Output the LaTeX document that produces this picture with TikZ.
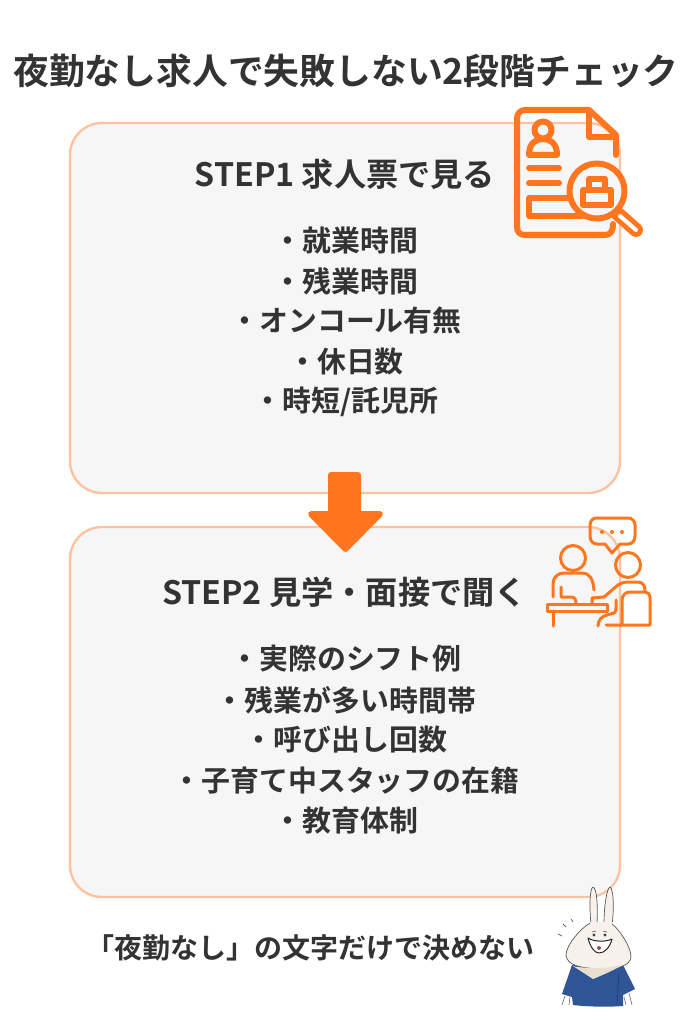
\documentclass[tikz,border=0pt]{standalone}
\usepackage{fontspec}
\setmainfont{Noto Sans CJK JP}[BoldFont={* Bold},UprightFeatures={}]
\definecolor{ink}{HTML}{333333}
\definecolor{org}{HTML}{FF761F}
\definecolor{edge}{HTML}{FDC3A0}
\definecolor{panel}{HTML}{F6F6F6}
\definecolor{shirt}{HTML}{2F5597}
\definecolor{fur}{HTML}{F6F1EB}
\definecolor{collar}{HTML}{E9DFD0}
\tikzset{
 panelbox/.style={draw=edge,line width=2.4pt,fill=panel,rounded corners=32pt},
 titletext/.style={text=ink,font=\fontsize{35.8}{40}\selectfont\bfseries,inner sep=0pt,anchor=center},
 headtext/.style={text=ink,font=\fontsize{32.2}{36}\selectfont\bfseries,inner sep=0pt,anchor=center},
 itemtext/.style={text=ink,font=\fontsize{28.9}{33}\selectfont\bfseries,inner sep=0pt,anchor=center},
 notetext/.style={text=ink,font=\fontsize{28}{32}\selectfont\bfseries,inner sep=0pt,anchor=center},
 iconA/.style={draw=org,line width=6pt,line cap=round,line join=round},
 iconB/.style={draw=org,line width=3pt,line cap=round,line join=round},
 rab/.style={draw=black!65,line width=.7pt,line join=round},
}
\begin{document}
\begin{tikzpicture}[x=1pt,y=-1pt]
\useasboundingbox (0,0) rectangle (691,1024);
\fill[white] (0,0) rectangle (691,1024);
% panels
\draw[panelbox] (70,123) rectangle (620,493);
\draw[panelbox] (70,527) rectangle (620,897);
% arrow
\fill[org,draw=org,line width=6pt,line join=round] (331,475) -- (358,475) -- (358,514) -- (380,514) -- (345.5,549) -- (311,514) -- (331,514) -- cycle;
% texts
\node[titletext] (title) at (346,71) {夜勤なし求人で失敗しない2段階チェック};
\node[headtext] (h1) at (345,174) {STEP1 求人票で見る};
\node[itemtext] (a1) at (346,241) {・就業時間};
\node[itemtext] (a2) at (346,281) {・残業時間};
\node[itemtext] (a3) at (346,321) {・オンコール有無};
\node[itemtext] (a4) at (346,362) {・休日数};
\node[itemtext] (a5) at (346,402) {・時短/託児所};
\node[headtext] (h2) at (344.5,592) {STEP2 見学・面接で聞く};
\node[itemtext] (b1) at (346,659) {・実際のシフト例};
\node[itemtext] (b2) at (346,700) {・残業が多い時間帯};
\node[itemtext] (b3) at (346,740) {・呼び出し回数};
\node[itemtext] (b4) at (346,781) {・子育て中スタッフの在籍};
\node[itemtext] (b5) at (346,821) {・教育体制};
\node[notetext] (note) at (310,948) {「夜勤なし」の文字だけで決めない};
% document icon
\draw[iconA] (616,155) -- (616,135) -- (589,110) -- (525,110) arc[start angle=270,end angle=180,radius=8] -- (517,227) .. controls (517,232) and (520,235) .. (525,235) -- (605,235) .. controls (610,235) and (613,232) .. (613,224);
\draw[iconA] (589,110) -- (589,137) -- (616,137);
\draw[iconA] (543,130) circle[radius=8.5];
\draw[iconA] (529,155) .. controls (529,143) and (536,139) .. (543,139) .. controls (550,139) and (557,143) .. (557,155) -- cycle;
\draw[iconA] (529,168) -- (559,168);
\draw[iconA] (529,183) -- (559,183);
\draw[iconA] (574,198) -- (529,198) -- (529,216) -- (582,216);
% magnifier
\draw[org,line width=14pt,line cap=round] (618,214) -- (636,230);
\draw[white,line width=4pt,line cap=round] (620,216) -- (636,230);
\draw[iconA,fill=panel] (597,191) circle[radius=27.5];
\draw[iconA] (589,190) -- (589,179) -- (605,179) -- (605,190);
\draw[iconA] (583,190) rectangle (611,205);
% conversation icon
\draw[iconB] (596,518) -- (628,518) .. controls (632,518) and (635,521) .. (635,525) -- (635,536) .. controls (635,541) and (632,544) .. (628,544) -- (620,544) -- (612,553) -- (605,544) -- (597,544) .. controls (593,544) and (590,541) .. (590,536) -- (590,525) .. controls (590,521) and (593,518) .. (596,518) -- cycle;
\foreach \px in {602,612,622}{\fill[org] (\px,532) circle[radius=2];}
\draw[iconB] (573,558) circle[radius=12.5];
\draw[iconB] (628,565) circle[radius=12.5];
\draw[iconB] (553,597) -- (553,584) .. controls (553,577) and (558,573) .. (564,573) -- (582,573) .. controls (589,573) and (593,578) .. (594,590);
\draw[iconB] (561,587) -- (561,597) -- (571,597) .. controls (575,597) and (576,600) .. (576,604);
\draw[iconB] (547,604) -- (607,604) -- (607,611) -- (547,611) -- cycle;
\draw[iconB] (553,611) -- (553,626);
\draw[iconB] (592,603) -- (592,598) -- (604,597) -- (618,585) .. controls (621,583) and (624,582) .. (628,582) -- (638,582) .. controls (643,582) and (645,586) .. (645,591);
\draw[iconB] (606,625) -- (650,625) -- (650,597) .. controls (650,594) and (648,592) .. (645,592) -- (630,592) .. controls (625,592) and (622,596) .. (622,600) -- (622,625);
\draw[iconB] (598,626) .. controls (598,620) and (602,616) .. (607,615) -- (614,613) .. controls (616,612) and (616,610) .. (616,608) -- (616,600);
% rabbit
\draw[black!55,line width=.7pt] (565,996) -- (562,1005);
\draw[black!55,line width=.7pt] (570,997) -- (569,1005);
\draw[black!55,line width=.7pt] (624,997) -- (626,1005);
\draw[black!55,line width=.7pt] (629,993) -- (632,1005);
\fill[shirt] (572,965) -- (562,994) -- (572,997) -- (573,1005) .. controls (590,1007) and (610,1007) .. (623,1006) -- (623,995) -- (635,989) -- (623,965) -- cycle;
\draw[shirt!70!black,line width=.6pt] (619,972) -- (617,1004);
\draw[rab,fill=fur] (591,924) .. controls (589,905) and (590,888) .. (593,887) .. controls (597,888) and (598,908) .. (597,923) -- cycle;
\draw[rab,fill=fur] (604,924) .. controls (604,905) and (607,888) .. (610,887) .. controls (614,890) and (614,910) .. (612,925) -- cycle;
\fill[fur] (590,922) -- (613,922) -- (613,930) -- (590,930) -- cycle;
\draw[rab,fill=fur] (590,923) .. controls (581,928) and (566,945) .. (566,955) .. controls (567,966) and (582,968) .. (600,969) .. controls (618,969) and (630,966) .. (631,957) .. controls (631,946) and (618,928) .. (612,924);
\fill[collar] (573,966) .. controls (585,969) and (612,969) .. (623,964) .. controls (622,966) and (610,972) .. (593,979) -- cycle;
\fill[black!75] (594,935) circle[radius=1.6];
\fill[black!75] (605,935) circle[radius=1.6];
\draw[black!65,line width=.6pt] (592,932) -- (596,931);
\draw[black!65,line width=.6pt] (603,931) -- (607,932);
\draw[black!85,line width=1pt,fill=white,line join=round] (588,938) .. controls (594,942) and (606,942) .. (612,939) .. controls (610,947) and (605,953) .. (599,953) .. controls (594,953) and (590,946) .. (588,938) -- cycle;
\fill[red!55!black!70] (599,948) circle[radius=2];
\draw[black!60,line width=.8pt] (558,934) -- (562,936);
\draw[black!60,line width=.8pt] (563,924) -- (566,927);
\draw[black!60,line width=.8pt] (571,919) -- (573,922);
\end{tikzpicture}
\end{document}
